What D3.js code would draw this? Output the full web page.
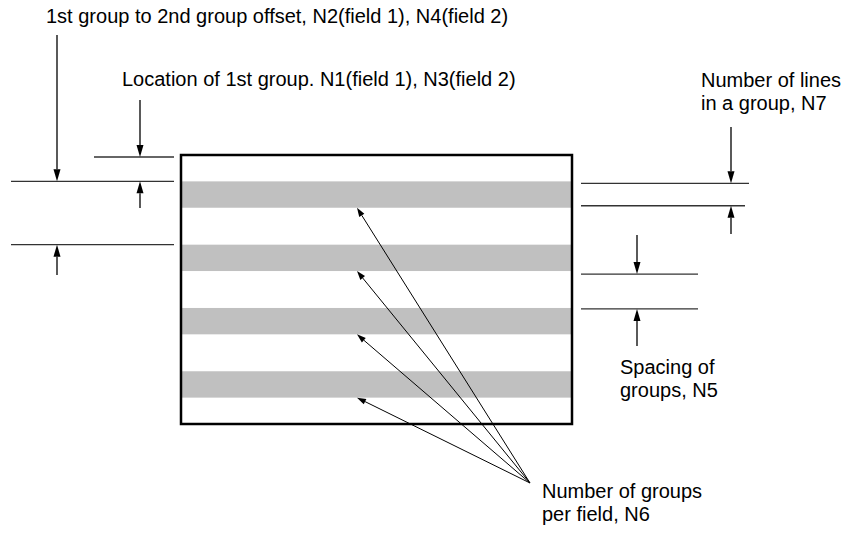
<!DOCTYPE html>
<html>
<head>
<meta charset="utf-8">
<script src="https://cdn.jsdelivr.net/npm/d3@7/dist/d3.min.js"></script>
<style>
  body { margin: 0; background: #fff; }
  text { font-family: "Liberation Sans", Arial, Helvetica, sans-serif; font-size: 20px; fill: #000; }
</style>
</head>
<body>
<div id="diagram"></div>
<script>
// field parameters, in lines
var fieldLines = 102;
var firstGroup = 10;      // N1 / N3
var groupLines = 10;      // N7
var groupSpacing = 14;    // N5
var groupCount = 4;       // N6

var groups = d3.range(groupCount).map(function(i) {
    var start = firstGroup + i * (groupLines + groupSpacing);
    return { start: start, end: start + groupLines };
});

var labelOffset = ["1st group to 2nd group offset, N2(field 1), N4(field 2)"];
var labelLocation = ["Location of 1st group. N1(field 1), N3(field 2)"];
var labelLines = ["Number of lines", "in a group, N7"];
var labelSpacing = ["Spacing of", "groups, N5"];
var labelCount = ["Number of groups", "per field, N6"];

var svgWidth = 847, svgHeight = 533;

var svg = d3.select("#diagram")
    .append("svg")
    .attr("width", svgWidth)
    .attr("height", svgHeight);

// scales: lines -> pixels
var y = d3.scaleLinear().domain([0, fieldLines]).range([155, 424]);
var x = d3.scaleLinear().domain([0, 1]).range([181, 572]);

// grey group bands
svg.append("g").selectAll("rect")
    .data(groups)
    .enter()
    .append("rect")
    .attr("x", x(0))
    .attr("width", x(1) - x(0))
    .attr("y", d => y(d.start))
    .attr("height", d => y(d.end) - y(d.start))
    .attr("fill", "#c0c0c0");

// field outline
svg.append("rect")
    .attr("x", x(0))
    .attr("y", y(0))
    .attr("width", x(1) - x(0))
    .attr("height", y(fieldLines) - y(0))
    .attr("fill", "none")
    .attr("stroke", "#000")
    .attr("stroke-width", 2.5);

function hline(x1, x2, yy) {
    svg.append("line")
        .attr("x1", x1).attr("x2", x2)
        .attr("y1", yy).attr("y2", yy)
        .attr("stroke", "#333")
        .attr("stroke-width", 1.3);
}

// line with a filled head at (x2,y2)
function arrow(x1, y1, x2, y2, len, half, sw) {
    var a = Math.atan2(y2 - y1, x2 - x1);
    var bx = x2 - len * Math.cos(a), by = y2 - len * Math.sin(a);
    svg.append("line")
        .attr("x1", x1).attr("y1", y1)
        .attr("x2", bx).attr("y2", by)
        .attr("stroke", "#000")
        .attr("stroke-width", sw);
    var px = -Math.sin(a) * half, py = Math.cos(a) * half;
    svg.append("path")
        .attr("d", "M" + x2 + "," + y2 +
            "L" + (bx + px) + "," + (by + py) +
            "L" + (bx - px) + "," + (by - py) + "Z")
        .attr("fill", "#000");
}

function label(lines, tx, ty) {
    var t = svg.append("text").attr("x", tx).attr("y", ty);
    lines.forEach(function(s, i) {
        t.append("tspan").attr("x", tx).attr("dy", i === 0 ? 0 : 23).text(s);
    });
}

var g0 = groups[0], g1 = groups[1], g2 = groups[2];

// location of 1st group
hline(94, 174, y(0) + 2);
hline(11, 174, y(g0.start));
arrow(140, 100, 140, y(0) + 2, 12, 3.5, 1.3);
arrow(140, 208, 140, y(g0.start), 12, 3.5, 1.3);

// 1st to 2nd group offset
hline(11, 174, y(g1.start));
arrow(57, 35, 57, y(g0.start), 12, 3.5, 1.3);
arrow(57, 275, 57, y(g1.start), 12, 3.5, 1.3);

// lines in a group
hline(581, 749, y(g0.start) + 2);
hline(581, 745, y(g0.end) - 2);
arrow(731, 127, 731, y(g0.start) + 2, 12, 3.5, 1.3);
arrow(731, 234, 731, y(g0.end) - 2, 12, 3.5, 1.3);

// spacing of groups
hline(581, 698, y(g1.end) + 3);
hline(581, 698, y(g2.start) + 1);
arrow(637, 235, 637, y(g1.end) + 3, 12, 3.5, 1.3);
arrow(637, 346, 637, y(g2.start) + 1, 12, 3.5, 1.3);

// number of groups leaders
groups.forEach(function(d) {
    arrow(530, 483, 357, y(d.end), 9, 3, 1);
});

label(labelOffset, 46, 23);
label(labelLocation, 122, 86);
label(labelLines, 701, 87);
label(labelSpacing, 620, 374);
label(labelCount, 542, 498);
</script>
</body>
</html>
